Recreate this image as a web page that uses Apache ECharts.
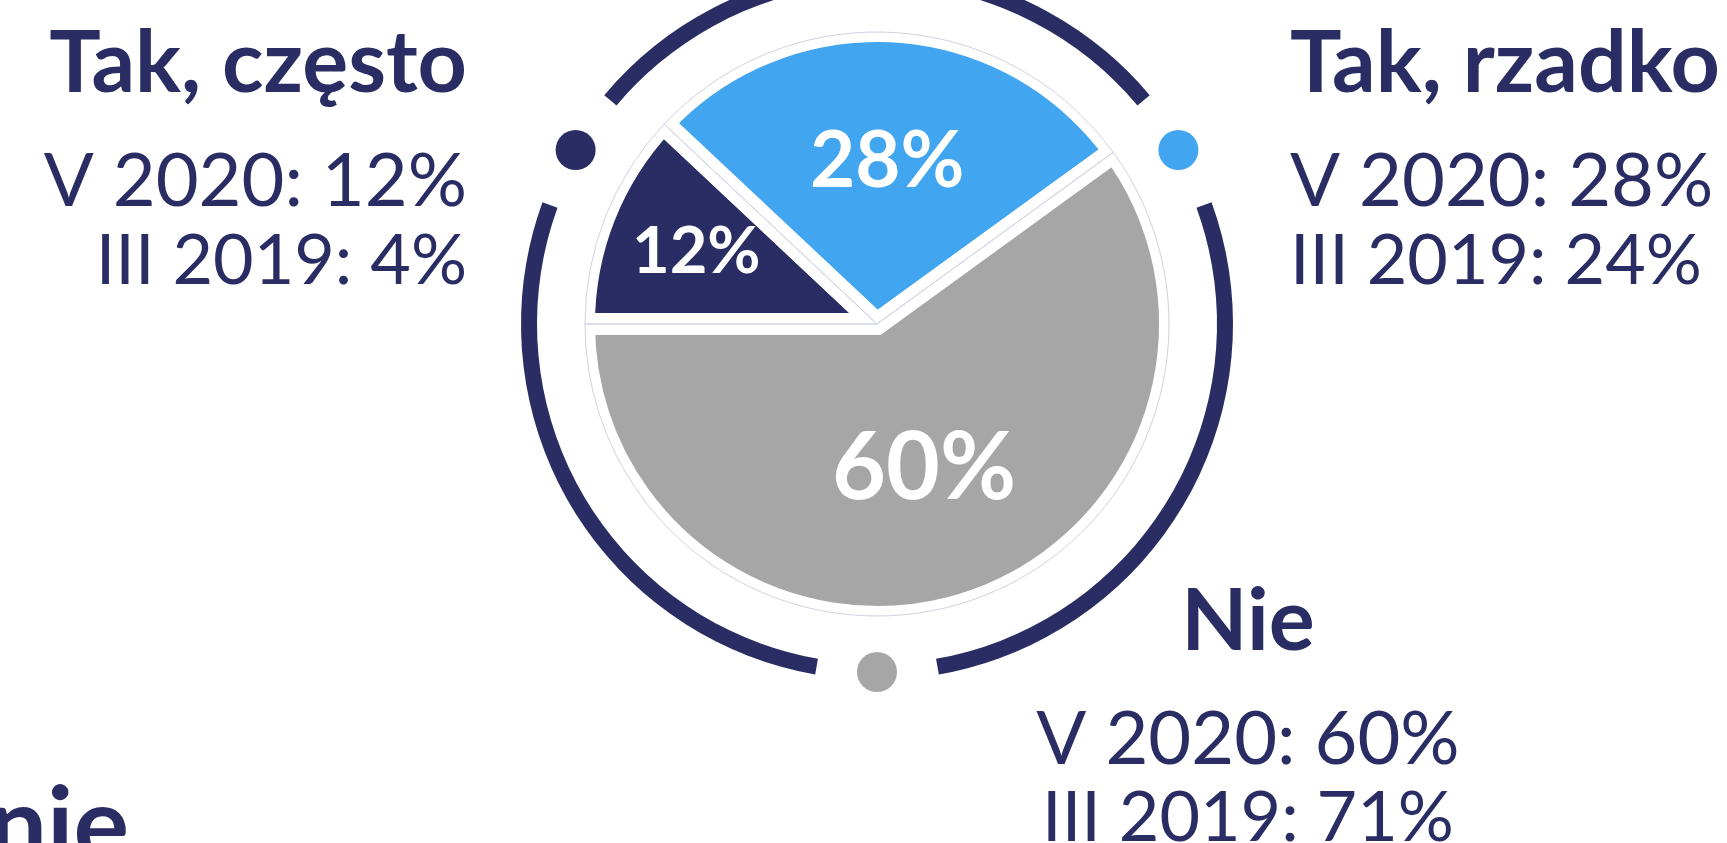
<!DOCTYPE html>
<html>
<head>
<meta charset="utf-8">
<script src="https://cdn.jsdelivr.net/npm/echarts@6/dist/echarts.min.js"></script>
<style>
  html, body { margin: 0; padding: 0; background: #fff; }
  #survey_pie { width: 1727px; height: 843px; }
</style>
</head>
<body>
<div id="survey_pie"></div>
<script>
// dane z wykresu
var categories = ["Tak, często", "Tak, rzadko", "Nie"];
var share2020 = [12, 28, 60];
var share2019 = [4, 24, 71];
var periodNames = ["V 2020", "III 2019"];

var NAVY = "#2a2d63";
var sliceColors = [NAVY, "#42a5f0", "#a6a6a6"];
var labelSizes = [65, 78, 93];
var labelPush = [1.3, 1.085, 1.02]; // odsunięcie etykiet od środka
var cx = 877, cy = 324;
var ringStart = 150;

var survey_pie = echarts.init(document.getElementById("survey_pie"));

// blok tekstu przy każdej kategorii
function textBlock(i, x, align, ys) {
  var lines = [
    { text: categories[i], size: 86, weight: "bold" },
    { text: periodNames[0] + ": " + share2020[i] + "%", size: 74, weight: "normal" },
    { text: periodNames[1] + ": " + share2019[i] + "%", size: 70, weight: "normal" },
  ];
  return lines.map(function (l, k) {
    return {
      type: "text",
      x: x,
      y: ys[k],
      silent: true,
      style: {
        text: l.text,
        fill: NAVY,
        fontFamily: "Lato",
        fontSize: l.size,
        fontWeight: l.weight,
        align: align,
        verticalAlign: "middle",
      },
    };
  });
}

var graphics = []
  .concat(textBlock(0, 467, "right", [64, 182, 261]))
  .concat(textBlock(1, 1290, "left", [64, 182, 261]))
  .concat(textBlock(2, 1248, "center", [622, 740, 818]));
graphics.push({
  type: "text",
  x: 129,
  y: 827,
  silent: true,
  style: {
    text: "nie",
    fill: NAVY,
    fontFamily: "Lato",
    fontSize: 104,
    fontWeight: "bold",
    align: "right",
    verticalAlign: "middle",
  },
});

var option = {
  animation: false,
  backgroundColor: "#fff",
  polar: { center: [cx, cy], radius: 348 },
  angleAxis: {
    type: "value",
    min: 0,
    max: 360,
    startAngle: 0,
    clockwise: false,
    show: false,
    splitLine: { show: false },
  },
  radiusAxis: { type: "value", min: 0, max: 1, show: false, splitLine: { show: false } },
  graphic: graphics,
  series: [
    // zewnętrzny pierścień z przerwami
    {
      name: "ring",
      type: "pie",
      center: [cx, cy],
      radius: [340, 356],
      startAngle: ringStart,
      clockwise: true,
      padAngle: 20,
      silent: true,
      label: { show: false },
      labelLine: { show: false },
      emphasis: { disabled: true },
      itemStyle: { color: NAVY },
      data: categories.map(function (name) {
        return { name: name, value: 1 };
      }),
    },
    // kropki w przerwach pierścienia
    {
      name: "dots",
      type: "scatter",
      coordinateSystem: "polar",
      symbolSize: 40,
      silent: true,
      z: 5,
      itemStyle: { opacity: 1 },
      data: categories.map(function (name, i) {
        var a = (((ringStart - i * 120) % 360) + 360) % 360;
        return { value: [1, a], itemStyle: { color: sliceColors[i], opacity: 1 } };
      }),
    },
    // główny wykres kołowy
    {
      name: "V 2020",
      type: "pie",
      center: [cx, cy],
      radius: 293,
      startAngle: 180,
      clockwise: true,
      avoidLabelOverlap: false,
      silent: true,
      emphasis: { disabled: true },
      itemStyle: {
        borderColor: "#fff",
        borderWidth: 22,
        borderJoin: "miter",
        borderMiterLimit: 10,
      },
      label: {
        show: true,
        position: "inside",
        formatter: "{c}%",
        color: "#fff",
        fontFamily: "Lato",
        fontWeight: "bold",
      },
      labelLine: { show: false },
      labelLayout: function (p) {
        var r = p.labelRect;
        var lx = r.x + r.width / 2;
        var ly = r.y + r.height / 2;
        var k = labelPush[p.dataIndex] - 1;
        return { dx: (lx - cx) * k, dy: (ly - cy) * k };
      },
      data: categories.map(function (name, i) {
        return {
          name: name,
          value: share2020[i],
          itemStyle: { color: sliceColors[i] },
          label: { fontSize: labelSizes[i] },
        };
      }),
    },
    // cienki obrys
    {
      name: "outline",
      type: "pie",
      center: [cx, cy],
      radius: 292,
      startAngle: 180,
      clockwise: true,
      silent: true,
      z: 3,
      emphasis: { disabled: true },
      label: { show: false },
      labelLine: { show: false },
      itemStyle: {
        color: "rgba(0,0,0,0)",
        borderColor: "#cfd2e2",
        borderWidth: 1,
      },
      data: categories.map(function (name, i) {
        return { name: name, value: share2020[i] };
      }),
    },
  ],
};
survey_pie.setOption(option);
</script>
</body>
</html>
